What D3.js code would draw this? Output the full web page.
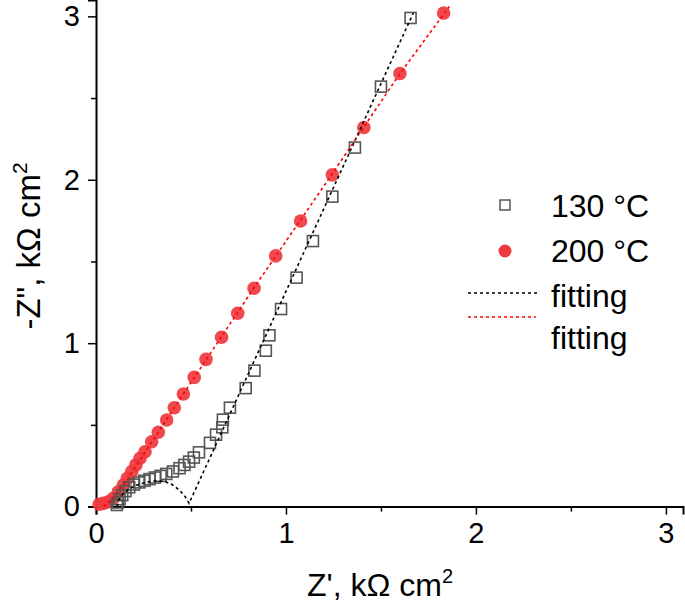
<!DOCTYPE html>
<html><head><meta charset="utf-8">
<script src="https://cdn.jsdelivr.net/npm/d3@7"></script>
<style>
body{margin:0;background:#fff;}
svg{font-family:"Liberation Sans",Arial,Helvetica,sans-serif;}
</style></head>
<body><svg id="c" width="685" height="608"></svg>
<script>
// 130 °C data (Z', -Z'') in kΩ cm²
const z130x = [0.11,0.115,0.124,0.138,0.155,0.175,0.2,0.228,0.255,0.282,0.31,0.34,0.37,0.405,0.44,0.465,0.49,0.515,0.542,0.6,0.632,0.665,0.668,0.705,0.788,0.834,0.894,0.913,0.974,1.056,1.142,1.244,1.363,1.50,1.656];
const z130y = [0.01,0.025,0.045,0.07,0.095,0.118,0.135,0.148,0.158,0.168,0.178,0.188,0.2,0.215,0.235,0.255,0.275,0.3,0.332,0.39,0.44,0.485,0.532,0.605,0.725,0.832,0.954,1.048,1.209,1.401,1.625,1.897,2.197,2.57,2.99];
// 200 °C data
const z200x = [0.017,0.038,0.065,0.091,0.117,0.144,0.165,0.188,0.21,0.232,0.258,0.293,0.328,0.372,0.412,0.46,0.517,0.579,0.661,0.746,0.832,0.946,1.077,1.244,1.41,1.60,1.83];
const z200y = [0.014,0.02,0.03,0.051,0.091,0.132,0.173,0.214,0.255,0.296,0.336,0.397,0.455,0.53,0.605,0.689,0.791,0.901,1.036,1.183,1.336,1.534,1.748,2.03,2.32,2.65,3.02];
// fitting curves
const fit130x = [0.11,0.12,0.14,0.17,0.21,0.26,0.31,0.36,0.40,0.44,0.47,0.49,1.67];
const fit130y = [0.0,0.04,0.075,0.105,0.13,0.148,0.157,0.155,0.135,0.1,0.06,0.02,3.02];
const fit200x = [0.04,0.09,0.15,0.26,0.46,0.83,1.24,1.60,1.86];
const fit200y = [0.0,0.05,0.14,0.336,0.689,1.336,2.03,2.65,3.06];
const xTicks = [0,1,2,3];
const yTicks = [0,1,2,3];
const minorTicks = [0.5,1.5,2.5];
const legendLabels = ["130 °C","200 °C","fitting","fitting"];

const svg = d3.select("#c");
const x = d3.scaleLinear().domain([0,3.09]).range([96,683]);
const y = d3.scaleLinear().domain([0,3.1]).range([506.6,0]);

const line = d3.line().x(d=>x(d[0])).y(d=>y(d[1]));

// axes
const xAxis = svg.append("g").attr("transform","translate(0,506.6)");
xAxis.call(d3.axisBottom(x).tickValues(xTicks).tickFormat(d3.format("d")).tickSizeOuter(0).tickSize(8).tickPadding(8));
const xMinor = svg.append("g").attr("transform","translate(0,506.6)");
xMinor.call(d3.axisBottom(x).tickValues(minorTicks).tickFormat("").tickSizeOuter(0).tickSize(5));
xMinor.select(".domain").remove();
const yAxis = svg.append("g").attr("transform","translate(96,0)");
yAxis.call(d3.axisLeft(y).tickValues(yTicks).tickFormat(d3.format("d")).tickSizeOuter(0).tickSize(8).tickPadding(8));
const yMinor = svg.append("g").attr("transform","translate(96,0)");
yMinor.call(d3.axisLeft(y).tickValues(minorTicks).tickFormat("").tickSizeOuter(0).tickSize(5));
yMinor.select(".domain").remove();
svg.selectAll(".domain").attr("stroke","#000").attr("stroke-width",2);
svg.selectAll(".tick line").attr("stroke","#000").attr("stroke-width",1.5);
svg.selectAll(".tick text").attr("font-size",29).attr("fill","#000").attr("font-family","Liberation Sans, Arial, sans-serif");

// data: 200 circles
const d200 = z200x.map((v,i)=>[v,z200y[i]]);
svg.append("g").selectAll("circle").data(d200).join("circle")
  .attr("cx",d=>x(d[0])).attr("cy",d=>y(d[1])).attr("r",6.8)
  .attr("fill","#ee3a3e").attr("fill-opacity",0.92);

// 130 squares
const d130 = z130x.map((v,i)=>[v,z130y[i]]);
svg.append("g").selectAll("rect").data(d130).join("rect")
  .attr("x",d=>x(d[0])-5.5).attr("y",d=>y(d[1])-5.5).attr("width",11).attr("height",11)
  .attr("fill","none").attr("stroke","#555").attr("stroke-width",1.6);

// fitting lines
svg.append("path").datum(fit130x.map((v,i)=>[v,fit130y[i]])).attr("d",line)
  .attr("fill","none").attr("stroke","#000").attr("stroke-width",1.6).attr("stroke-dasharray","3,3");
svg.append("path").datum(fit200x.map((v,i)=>[v,fit200y[i]])).attr("d",line)
  .attr("fill","none").attr("stroke","#ff0000").attr("stroke-width",1.6).attr("stroke-dasharray","3,3");

// axis titles
const xt = svg.append("text").attr("x",380).attr("y",596).attr("text-anchor","middle")
  .attr("font-size",32).attr("fill","#000");
xt.append("tspan").text("Z', kΩ cm");
xt.append("tspan").text("2").attr("font-size",20).attr("dy",-13);
const yt = svg.append("text").attr("transform","translate(40,246) rotate(-90)").attr("text-anchor","middle")
  .attr("font-size",33).attr("fill","#000");
yt.append("tspan").text("-Z\", kΩ cm");
yt.append("tspan").text("2").attr("font-size",21).attr("dy",-13);

// legend
const lg = svg.append("g");
lg.append("rect").attr("x",500).attr("y",200).attr("width",10).attr("height",10)
  .attr("fill","none").attr("stroke","#555").attr("stroke-width",1.5);
lg.append("circle").attr("cx",505).attr("cy",251).attr("r",6.5).attr("fill","#ee3a3e");
lg.append("line").attr("x1",468).attr("x2",540).attr("y1",293).attr("y2",293)
  .attr("stroke","#000").attr("stroke-width",1.4).attr("stroke-dasharray","3,3");
lg.append("line").attr("x1",468).attr("x2",536).attr("y1",317).attr("y2",317)
  .attr("stroke","#ff0000").attr("stroke-width",1.4).attr("stroke-dasharray","3,3");
const ly = [217,262,307,349];
lg.selectAll("text").data(legendLabels).join("text")
  .attr("x",551).attr("y",(d,i)=>ly[i]).attr("font-size",32).attr("fill","#000").text(d=>d);
</script></body></html>
